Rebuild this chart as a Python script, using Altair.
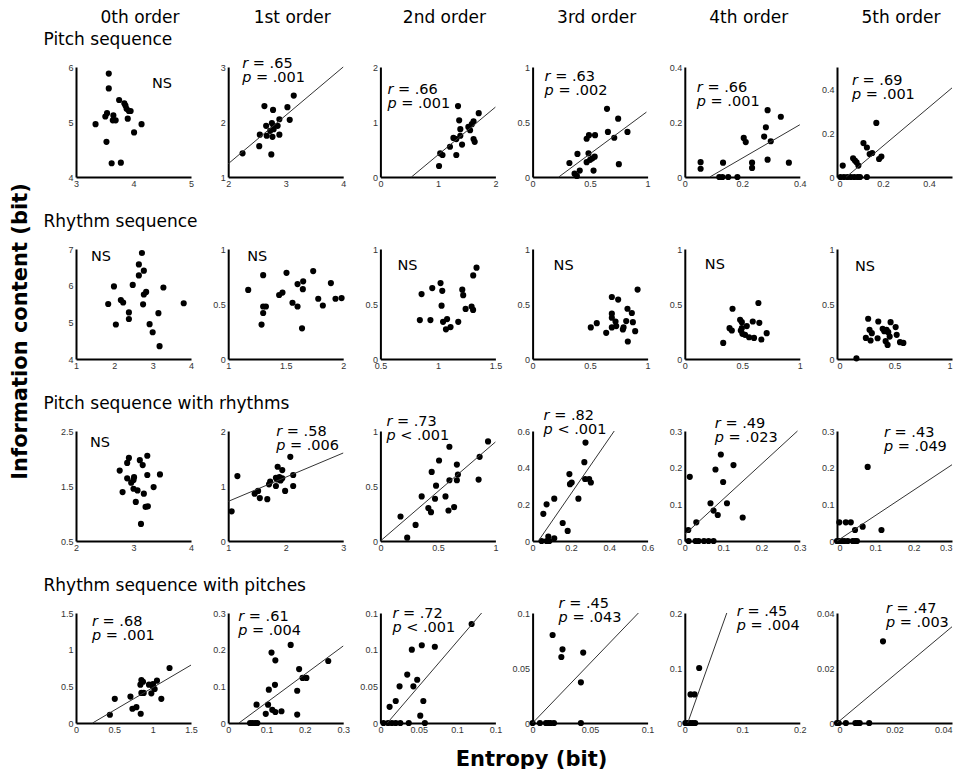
import altair as alt
import pandas as pd

# ------------------------------------------------------------------ text
COL_HEADERS = ["0th order", "1st order", "2nd order", "3rd order", "4th order", "5th order"]
ROW_TITLES = ["Pitch sequence", "Rhythm sequence",
              "Pitch sequence with rhythms", "Rhythm sequence with pitches"]
Y_TITLE = "Information content (bit)"
X_TITLE = "Entropy (bit)"

# ------------------------------------------------------------------ Pitch sequence
pitch0_x = [3.57, 3.57, 3.75, 3.84, 3.86, 3.88, 3.92, 3.95, 3.54, 3.51, 3.65, 3.64, 3.69, 3.90, 3.34, 4.14, 4.01, 3.53, 3.62, 3.78]
pitch0_y = [5.88, 5.61, 5.40, 5.34, 5.30, 5.24, 5.20, 5.20, 5.16, 5.10, 5.12, 5.03, 5.03, 5.06, 4.96, 4.96, 4.81, 4.64, 4.25, 4.26]
pitch1_x = [2.63, 2.78, 3.14, 3.03, 3.07, 2.89, 2.66, 2.76, 2.79, 2.86, 2.73, 2.79, 2.55, 2.67, 2.77, 2.89, 2.54, 2.25, 2.75]
pitch1_y = [2.29, 2.22, 2.48, 2.27, 2.04, 2.05, 1.93, 1.98, 1.92, 1.93, 1.84, 1.87, 1.77, 1.75, 1.73, 1.77, 1.56, 1.43, 1.41]
pitch2_x = [1.35, 1.37, 1.71, 1.62, 1.59, 1.53, 1.56, 1.39, 1.39, 1.27, 1.32, 1.21, 1.42, 1.62, 1.64, 1.04, 1.08, 1.32, 1.02]
pitch2_y = [1.29, 1.03, 1.16, 1.01, 0.96, 0.91, 0.85, 0.87, 0.75, 0.71, 0.69, 0.55, 0.59, 0.69, 0.64, 0.43, 0.40, 0.40, 0.20]
pitch3_x = [0.647, 0.744, 0.655, 0.825, 0.71, 0.47, 0.49, 0.543, 0.32, 0.39, 0.486, 0.47, 0.50, 0.52, 0.54, 0.75, 0.41, 0.53, 0.365, 0.385]
pitch3_y = [0.62, 0.53, 0.41, 0.41, 0.357, 0.348, 0.38, 0.38, 0.127, 0.21, 0.215, 0.135, 0.156, 0.17, 0.185, 0.117, 0.058, 0.058, 0.03, 0.01]
pitch4_x = [0.288, 0.334, 0.282, 0.276, 0.205, 0.212, 0.299, 0.055, 0.055, 0.133, 0.234, 0.234, 0.288, 0.362, 0.12, 0.131, 0.151, 0.183]
pitch4_y = [0.243, 0.219, 0.181, 0.147, 0.142, 0.127, 0.130, 0.054, 0.030, 0.052, 0.052, 0.033, 0.063, 0.052, 0, 0, 0, 0]
pitch5_x = [0.171, 0.115, 0.13, 0.142, 0.153, 0.07, 0.078, 0.085, 0.093, 0.183, 0.193, 0.025, 0.015, 0.03, 0.045, 0.06, 0.075, 0.09, 0.10, 0.13]
pitch5_y = [0.246, 0.154, 0.134, 0.104, 0.109, 0.085, 0.075, 0.067, 0.052, 0.082, 0.093, 0.052, 0, 0, 0, 0, 0, 0, 0, 0]

pitch_xdom = [[3, 5], [2, 4], [0, 2], [0, 1], [0, 0.4], [0, 0.5]]
pitch_xticks = [[3, 4, 5], [2, 3, 4], [0, 1, 2], [0, 0.5, 1], [0, 0.2, 0.4], [0, 0.2, 0.4]]
pitch_ydom = [[4, 6], [1, 3], [0, 2], [0, 1], [0, 0.4], [0, 0.5]]
pitch_yticks = [[4, 5, 6], [1, 2, 3], [0, 1, 2], [0, 0.5, 1], [0, 0.2, 0.4], [0, 0.2, 0.4]]
pitch_r = [None, "= .65", "= .66", "= .63", "= .66", "= .69"]
pitch_p = [None, "= .001", "= .001", "= .002", "= .001", "= .001"]
pitch_line_x = [None, [2, 4], [0.54, 2.0], [0.227, 0.99], [0.087, 0.4], [0.04, 0.5]]
pitch_line_y = [None, [1.24, 3.0], [0, 1.27], [0, 0.59], [0, 0.19], [0, 0.405]]

# ------------------------------------------------------------------ Rhythm sequence
rhythm0_x = [2.72, 2.64, 2.77, 2.64, 1.99, 2.48, 3.28, 1.84, 2.17, 2.23, 2.77, 2.83, 2.75, 3.81, 2.38, 2.38, 3.15, 2.04, 2.92, 3.00, 3.18]
rhythm0_y = [6.89, 6.58, 6.41, 6.28, 5.98, 6.02, 5.95, 5.50, 5.61, 5.54, 5.76, 5.83, 5.49, 5.52, 5.27, 5.09, 5.25, 4.94, 4.95, 4.73, 4.35]
rhythm1_x = [1.174, 1.304, 1.507, 1.739, 1.652, 1.603, 1.649, 1.893, 1.472, 1.443, 1.304, 1.328, 1.304, 1.559, 1.603, 1.783, 1.823, 1.933, 1.986, 1.290, 1.642]
rhythm1_y = [0.628, 0.762, 0.783, 0.799, 0.706, 0.681, 0.635, 0.690, 0.604, 0.582, 0.477, 0.477, 0.418, 0.511, 0.477, 0.548, 0.486, 0.548, 0.554, 0.313, 0.279]
rhythm2_x = [1.336, 1.307, 1.023, 0.951, 0.858, 1.038, 1.212, 1.22, 1.032, 1.241, 1.293, 1.306, 0.843, 0.935, 1.045, 1.08, 1.177, 1.07, 1.11]
rhythm2_y = [0.83, 0.76, 0.69, 0.645, 0.59, 0.62, 0.63, 0.58, 0.485, 0.455, 0.477, 0.446, 0.354, 0.354, 0.338, 0.363, 0.338, 0.27, 0.29]
rhythm3_x = [0.913, 0.689, 0.744, 0.825, 0.863, 0.689, 0.689, 0.721, 0.814, 0.872, 0.558, 0.506, 0.689, 0.727, 0.791, 0.785, 0.64, 0.892, 0.828]
rhythm3_y = [0.631, 0.564, 0.54, 0.457, 0.418, 0.412, 0.375, 0.341, 0.345, 0.335, 0.326, 0.287, 0.287, 0.299, 0.287, 0.268, 0.238, 0.253, 0.159]
rhythm4_x = [0.64, 0.415, 0.481, 0.496, 0.539, 0.591, 0.648, 0.389, 0.409, 0.496, 0.501, 0.524, 0.559, 0.602, 0.666, 0.712, 0.334, 0.487]
rhythm4_y = [0.509, 0.457, 0.357, 0.335, 0.299, 0.341, 0.329, 0.280, 0.259, 0.280, 0.229, 0.220, 0.198, 0.192, 0.177, 0.235, 0.146, 0.259]
rhythm5_x = [0.271, 0.359, 0.466, 0.510, 0.283, 0.303, 0.251, 0.292, 0.353, 0.397, 0.411, 0.431, 0.446, 0.458, 0.519, 0.423, 0.440, 0.548, 0.577, 0.169]
rhythm5_y = [0.366, 0.341, 0.335, 0.29, 0.265, 0.235, 0.192, 0.168, 0.189, 0.274, 0.253, 0.265, 0.244, 0.204, 0.22, 0.162, 0.128, 0.153, 0.146, 0.006]

rhythm_xdom = [[1, 4], [1, 2], [0.5, 1.5], [0, 1], [0, 1], [0, 1]]
rhythm_xticks = [[1, 2, 3, 4], [1, 1.5, 2], [0.5, 1, 1.5], [0, 0.5, 1], [0, 0.5, 1], [0, 0.5, 1]]
rhythm_ydom = [[4, 7], [0, 1], [0, 1], [0, 1], [0, 1], [0, 1]]
rhythm_yticks = [[4, 5, 6, 7], [0, 0.5, 1], [0, 0.5, 1], [0, 0.5, 1], [0, 0.5, 1], [0, 0.5, 1]]
rhythm_r = [None] * 6
rhythm_p = [None] * 6
rhythm_line_x = [None] * 6
rhythm_line_y = [None] * 6

# ------------------------------------------------------------------ Pitch sequence with rhythms
pitchr0_x = [2.92, 2.89, 3.11, 3.24, 3.16, 2.76, 2.89, 3.01, 3.00, 2.96, 3.24, 3.46, 2.81, 3.00, 3.07, 3.18, 3.35, 3.04, 3.21, 3.25, 3.13]
pitchr0_y = [2.01, 1.92, 1.97, 2.05, 1.88, 1.78, 1.64, 1.66, 1.61, 1.56, 1.70, 1.71, 1.39, 1.45, 1.42, 1.36, 1.48, 1.21, 1.12, 1.13, 0.81]
pitchr1_x = [1.06, 1.16, 1.46, 1.52, 1.55, 1.68, 1.71, 1.73, 1.83, 1.86, 1.94, 1.83, 1.89, 1.91, 1.94, 1.85, 1.99, 2.13, 2.13, 2.08]
pitchr1_y = [0.54, 1.18, 0.86, 0.91, 0.78, 0.76, 1.03, 1.08, 1.00, 1.35, 1.29, 1.15, 1.16, 1.10, 1.14, 1.12, 0.91, 1.00, 1.20, 1.53]
pitchr2_x = [0.936, 0.60, 0.863, 0.51, 0.665, 0.446, 0.674, 0.60, 0.665, 0.854, 0.484, 0.359, 0.475, 0.566, 0.417, 0.44, 0.592, 0.641, 0.175, 0.306, 0.233]
pitchr2_y = [0.905, 0.857, 0.765, 0.732, 0.695, 0.628, 0.604, 0.552, 0.552, 0.558, 0.503, 0.405, 0.384, 0.405, 0.299, 0.262, 0.277, 0.308, 0.223, 0.146, 0.03]
pitchr3_x = [0.276, 0.27, 0.192, 0.204, 0.195, 0.274, 0.295, 0.304, 0.239, 0.113, 0.073, 0.056, 0.157, 0.183, 0.082, 0.113, 0.047, 0.073, 0.087]
pitchr3_y = [0.537, 0.43, 0.365, 0.319, 0.31, 0.338, 0.338, 0.319, 0.231, 0.231, 0.2, 0.148, 0.098, 0.055, 0.024, 0.015, 0, 0, 0]
pitchr4_x = [0.094, 0.127, 0.013, 0.08, 0.1, 0.067, 0.11, 0.075, 0.086, 0.151, 0.009, 0.03, 0.01, 0.028, 0.036, 0.05, 0.062, 0.075]
pitchr4_y = [0.236, 0.207, 0.175, 0.195, 0.161, 0.103, 0.103, 0.083, 0.071, 0.064, 0.03, 0.051, 0, 0, 0, 0, 0, 0]
pitchr5_x = [0.08, 0.116, 0.067, 0.047, 0.006, 0.023, 0.036, 0, 0.006, 0.012, 0.019, 0.028, 0.041, 0.047, 0.052]
pitchr5_y = [0.202, 0.03, 0.039, 0.03, 0.051, 0.051, 0.051, 0, 0, 0, 0, 0, 0, 0, 0]

pitchr_xdom = [[2, 4], [1, 3], [0, 1], [0, 0.6], [0, 0.3], [0, 0.3]]
pitchr_xticks = [[2, 3, 4], [1, 2, 3], [0, 0.5, 1], [0, 0.2, 0.4, 0.6], [0, 0.1, 0.2, 0.3], [0, 0.1, 0.2, 0.3]]
pitchr_ydom = [[0.5, 2.5], [0, 2], [0, 1], [0, 0.6], [0, 0.3], [0, 0.3]]
pitchr_yticks = [[0.5, 1.5, 2.5], [0, 1, 2], [0, 0.5, 1], [0, 0.2, 0.4, 0.6], [0, 0.1, 0.2, 0.3], [0, 0.1, 0.2, 0.3]]
pitchr_r = [None, "= .58", "= .73", "= .82", "= .49", "= .43"]
pitchr_p = [None, "= .006", "< .001", "< .001", "= .023", "= .049"]
pitchr_line_x = [None, [1, 3], [0, 1], [0.03, 0.426], [0, 0.294], [0, 0.3]]
pitchr_line_y = [None, [0.72, 1.6], [0, 0.9], [0, 0.6], [0.018, 0.3], [0, 0.208]]

# ------------------------------------------------------------------ Rhythm sequence with pitches
rhythmp0_x = [1.22, 0.853, 0.874, 0.84, 0.952, 1.004, 1.056, 1.004, 1.026, 0.983, 0.853, 0.883, 0.506, 0.71, 1.113, 0.736, 0.788, 0.442, 0.844]
rhythmp0_y = [0.75, 0.586, 0.563, 0.523, 0.523, 0.532, 0.577, 0.495, 0.464, 0.405, 0.41, 0.41, 0.329, 0.36, 0.329, 0.194, 0.216, 0.113, 0.126]
rhythmp1_x = [0.163, 0.113, 0.123, 0.261, 0.185, 0.194, 0.204, 0.122, 0.106, 0.18, 0.074, 0.104, 0.115, 0.123, 0.139, 0.098, 0.18, 0.057, 0.063, 0.07, 0.076]
rhythmp1_y = [0.213, 0.192, 0.171, 0.169, 0.147, 0.123, 0.123, 0.104, 0.091, 0.088, 0.05, 0.05, 0.036, 0.03, 0.032, 0.025, 0.023, 0, 0, 0, 0]
rhythmp2_x = [0.119, 0.054, 0.071, 0.041, 0.035, 0.048, 0.043, 0.025, 0.02, 0.012, 0.056, 0.052, 0.004, 0.01, 0.015, 0.02, 0.026, 0.037, 0.058]
rhythmp2_y = [0.135, 0.106, 0.104, 0.1, 0.066, 0.059, 0.05, 0.05, 0.03, 0.022, 0.03, 0.01, 0, 0, 0, 0, 0, 0, 0]
rhythmp3_x = [0.0174, 0.026, 0.025, 0.044, 0.042, 0, 0.0064, 0.0116, 0.0137, 0.0157, 0.0186, 0.042]
rhythmp3_y = [0.08, 0.067, 0.06, 0.064, 0.037, 0, 0, 0, 0, 0, 0, 0]
rhythmp4_x = [0.025, 0.01, 0.017, 0.001, 0.005, 0.01, 0.014, 0.018]
rhythmp4_y = [0.10, 0.052, 0.052, 0, 0, 0, 0, 0]
rhythmp5_x = [0.016, 0, 0.0006, 0.0031, 0.0064, 0.0072, 0.0079, 0.0112]
rhythmp5_y = [0.0297, 0, 0, 0, 0, 0, 0, 0]

rhythmp_xdom = [[0, 1.5], [0, 0.3], [0, 0.15], [0, 0.1], [0, 0.2], [0, 0.04]]
rhythmp_xticks = [[0, 0.5, 1, 1.5], [0, 0.1, 0.2, 0.3], [0, 0.05, 0.1, 0.15], [0, 0.05, 0.1], [0, 0.1, 0.2], [0, 0.02, 0.04]]
rhythmp_ydom = [[0, 1.5], [0, 0.3], [0, 0.15], [0, 0.1], [0, 0.2], [0, 0.04]]
rhythmp_yticks = [[0, 0.5, 1, 1.5], [0, 0.1, 0.2, 0.3], [0, 0.05, 0.1, 0.15], [0, 0.05, 0.1], [0, 0.1, 0.2], [0, 0.02, 0.04]]
rhythmp_r = ["= .68", "= .61", "= .72", "= .45", "= .45", "= .47"]
rhythmp_p = ["= .001", "= .004", "< .001", "= .043", "= .004", "= .003"]
rhythmp_line_x = [[0.216, 1.5], [0.028, 0.3], [0.009, 0.132], [0, 0.092], [0.005, 0.073], [0, 0.04]]
rhythmp_line_y = [[0, 0.79], [0, 0.21], [0, 0.15], [0, 0.1], [0, 0.2], [0, 0.035]]

ROWS = [
    dict(xs=[pitch0_x, pitch1_x, pitch2_x, pitch3_x, pitch4_x, pitch5_x],
         ys=[pitch0_y, pitch1_y, pitch2_y, pitch3_y, pitch4_y, pitch5_y],
         xdom=pitch_xdom, xticks=pitch_xticks, ydom=pitch_ydom, yticks=pitch_yticks,
         r=pitch_r, p=pitch_p, lx=pitch_line_x, ly=pitch_line_y),
    dict(xs=[rhythm0_x, rhythm1_x, rhythm2_x, rhythm3_x, rhythm4_x, rhythm5_x],
         ys=[rhythm0_y, rhythm1_y, rhythm2_y, rhythm3_y, rhythm4_y, rhythm5_y],
         xdom=rhythm_xdom, xticks=rhythm_xticks, ydom=rhythm_ydom, yticks=rhythm_yticks,
         r=rhythm_r, p=rhythm_p, lx=rhythm_line_x, ly=rhythm_line_y),
    dict(xs=[pitchr0_x, pitchr1_x, pitchr2_x, pitchr3_x, pitchr4_x, pitchr5_x],
         ys=[pitchr0_y, pitchr1_y, pitchr2_y, pitchr3_y, pitchr4_y, pitchr5_y],
         xdom=pitchr_xdom, xticks=pitchr_xticks, ydom=pitchr_ydom, yticks=pitchr_yticks,
         r=pitchr_r, p=pitchr_p, lx=pitchr_line_x, ly=pitchr_line_y),
    dict(xs=[rhythmp0_x, rhythmp1_x, rhythmp2_x, rhythmp3_x, rhythmp4_x, rhythmp5_x],
         ys=[rhythmp0_y, rhythmp1_y, rhythmp2_y, rhythmp3_y, rhythmp4_y, rhythmp5_y],
         xdom=rhythmp_xdom, xticks=rhythmp_xticks, ydom=rhythmp_ydom, yticks=rhythmp_yticks,
         r=rhythmp_r, p=rhythmp_p, lx=rhythmp_line_x, ly=rhythmp_line_y),
]

# ------------------------------------------------------------------ styling / layout
FONT = "DejaVu Sans"
TICK_FONT = "Liberation Sans"
W, H = 115, 110
COL_GAP, ROW_GAP = 37.2, 72
STAT_SIZE = 14.5
LINE_GAP = 14
ORIGIN_X, ORIGIN_Y = 76, 70      # page position of the first plot area (for the global titles)

# annotation anchor (pixels from plot left, baseline from plot top)
ANNOT = [
    [(76, 21), (14, 1), (7, 27), (12, 14), (12, 25), (15, 18)],
    [(15, 12), (19, 12), (17, 21), (21, 21), (20, 20), (18, 22)],
    [(14, 16), (48, 5), (6, -5), (11, -11), (30, -3), (47, 6)],
    [(16, 13), (10, 8), (12, 5), (26, -5), (52, 3), (49, 0)],
]


def make_axis(values, is_x, title_kw, flush=False):
    kw = dict(values=values, format="~g", labelFont=TICK_FONT, labelFontSize=9,
              labelColor="#333333", domainColor="black", domainWidth=2,
              ticks=False, grid=False, labelFlush=flush, labelOverlap=False,
              labelPadding=2 if is_x else 3)
    if title_kw:
        kw.update(title_kw)
    else:
        kw["title"] = None
    return alt.Axis(**kw)


def title_kw(text, x, y, size, weight, angle, align):
    return dict(title=text, titleX=x, titleY=y, titleFont=FONT, titleFontSize=size,
                titleFontWeight=weight, titleColor="black", titleAngle=angle,
                titleAlign=align, titleBaseline="alphabetic")


def text_layer(s, px, py, italic):
    return alt.Chart(pd.DataFrame({"t": [s]})).mark_text(
        align="left", baseline="alphabetic", font=FONT, fontSize=STAT_SIZE,
        fontStyle="italic" if italic else "normal", color="black"
    ).encode(text="t:N", x=alt.value(px), y=alt.value(py))


def build_panel(i, j):
    row = ROWS[i]
    step_x, step_y = W + COL_GAP, H + ROW_GAP
    xt = None
    if i == 0:
        xt = title_kw(COL_HEADERS[j], W / 2 + 6, -(H + 45), 17, "normal", 0, "center")
    elif (i, j) == (3, 3):
        xt = title_kw(X_TITLE, 531 - (ORIGIN_X + 3 * step_x), 42, 21, "bold", 0, "center")
    yt = None
    if j == 0:
        yt = title_kw(ROW_TITLES[i], -33, -23, 17, "normal", 0, "left")
    elif (i, j) == (1, 1):
        yt = title_kw(Y_TITLE, 26 - (ORIGIN_X + step_x), 334 - (ORIGIN_Y + step_y),
                      21, "bold", 270, "center")

    xaxis = make_axis(row["xticks"][j], True, xt, flush=(j == 5))
    yaxis = make_axis(row["yticks"][j], False, yt)
    xscale = alt.Scale(domain=row["xdom"][j], nice=False, zero=False)
    yscale = alt.Scale(domain=row["ydom"][j], nice=False, zero=False)
    X = alt.X("x:Q", scale=xscale, axis=xaxis)
    Y = alt.Y("y:Q", scale=yscale, axis=yaxis)

    layers = [alt.Chart(pd.DataFrame({"x": row["xs"][j], "y": row["ys"][j]}))
              .mark_circle(size=38, color="black", opacity=1).encode(x=X, y=Y)]
    if row["lx"][j] is not None:
        layers.append(alt.Chart(pd.DataFrame({"x": row["lx"][j], "y": row["ly"][j]}))
                      .mark_line(color="#333333", strokeWidth=1).encode(x=X, y=Y))
    px, py = ANNOT[i][j]
    if row["r"][j] is None:
        layers.append(text_layer("NS", px, py, False))
    else:
        layers += [text_layer("r", px, py, True),
                   text_layer(row["r"][j], px + 10.6, py, False),
                   text_layer("p", px, py + LINE_GAP, True),
                   text_layer(row["p"][j], px + 13.8, py + LINE_GAP, False)]
    return alt.layer(*layers).properties(width=W, height=H)


panels = [build_panel(i, j) for i in range(4) for j in range(6)]

chart = alt.concat(
    *panels, columns=6, bounds="flush",
    spacing={"row": ROW_GAP, "column": COL_GAP}
).properties(
    padding={"left": 0, "top": 0, "right": 0, "bottom": 0}
).configure_view(stroke=None)

chart.save("out.html", embed_options={"renderer": "svg", "actions": False})
